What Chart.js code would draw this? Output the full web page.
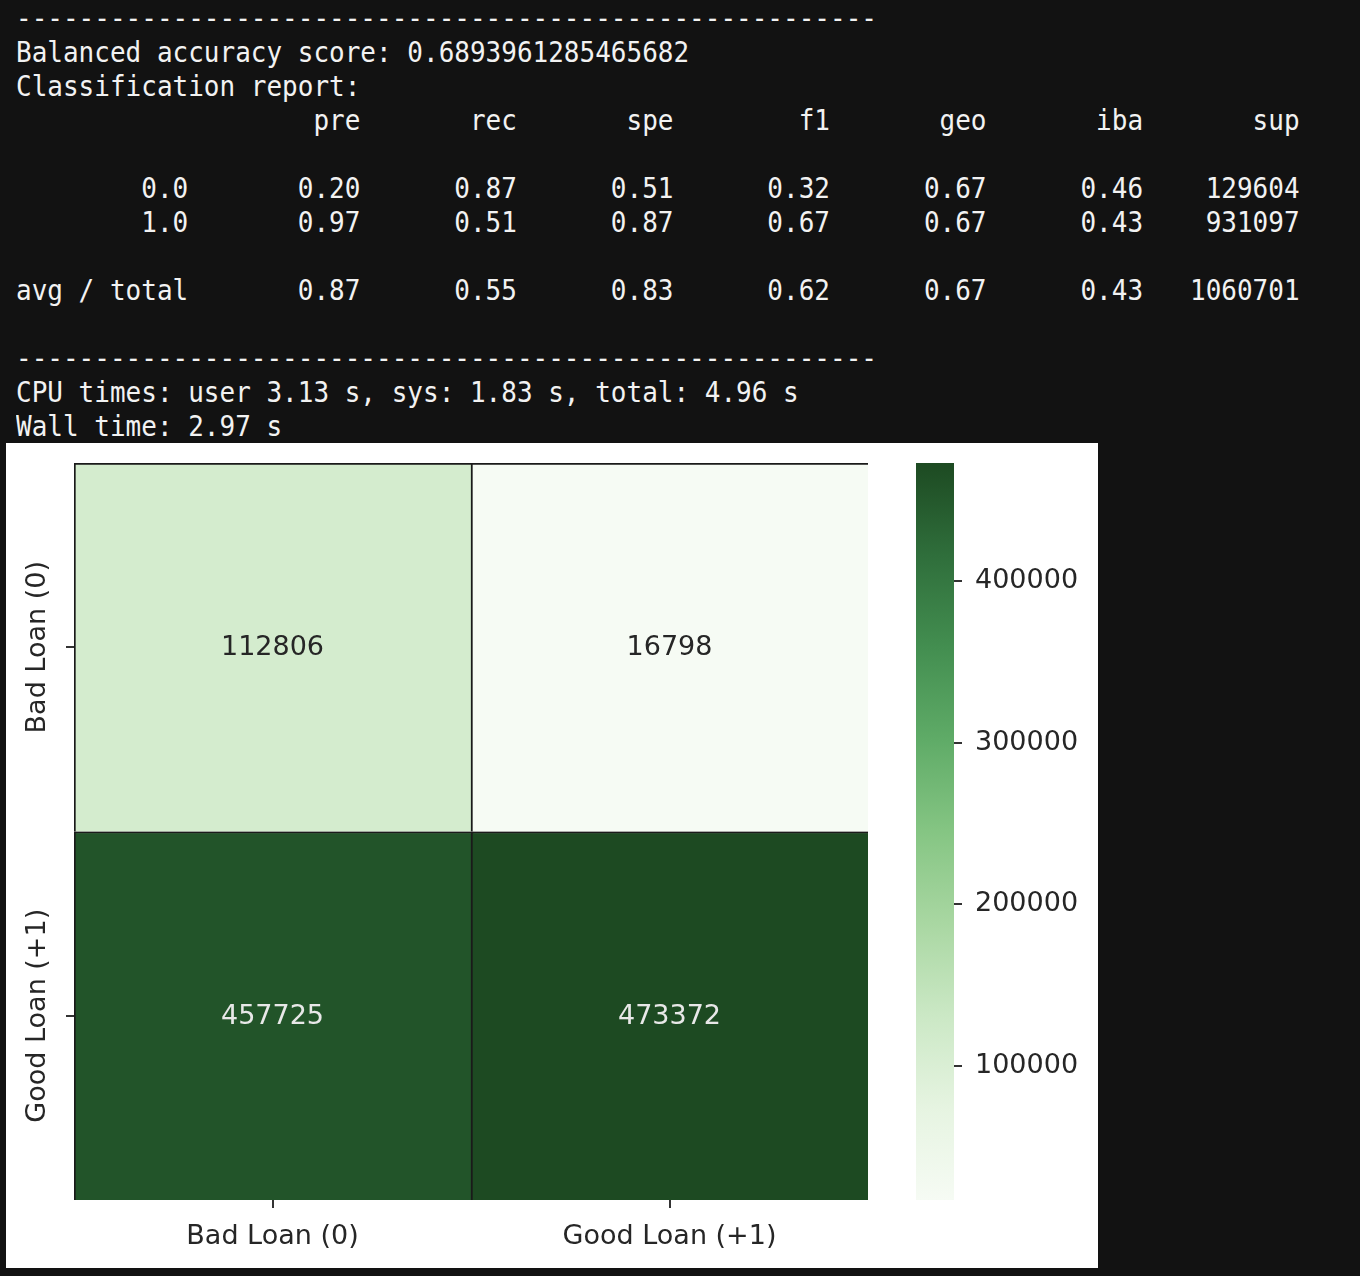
<!DOCTYPE html>
<html>
<head>
<meta charset="utf-8">
<script src="https://cdn.jsdelivr.net/npm/chart.js@4/dist/chart.umd.min.js"></script>
<style>
  body { margin: 0; background: #121212; width: 1360px; height: 1276px; overflow: hidden; position: relative; }
  #term { position: absolute; left: 16px; top: 1px; margin: 0; color: #f2f2f2;
          font-family: "DejaVu Sans Mono", monospace; font-size: 26px; line-height: 34px; white-space: pre; }
  #term span { display: inline-block; transform: scaleY(1.12); }
  #panel { position: absolute; left: 6px; top: 443px; width: 1092px; height: 825px; background: #fff; }
  #heat { position: absolute; left: 0; top: 0; }
  #cbar { position: absolute; left: 894px; top: 0; }
</style>
</head>
<body>
<div id="term"></div>
<div id="panel">
  <canvas id="heat" width="894" height="825"></canvas>
  <canvas id="cbar" width="198" height="825"></canvas>
</div>
<script>
// data
var classes = ['Bad Loan (0)', 'Good Loan (+1)'];
var rowBad = [112806, 16798];
var rowGood = [457725, 473372];
var cbTicks = [100000, 200000, 300000, 400000];

var balanced = '0.6893961285465682';
var repCols = ['pre', 'rec', 'spe', 'f1', 'geo', 'iba', 'sup'];
var repLabels = ['0.0', '1.0', 'avg / total'];
var rep0 = ['0.20', '0.87', '0.51', '0.32', '0.67', '0.46', '129604'];
var rep1 = ['0.97', '0.51', '0.87', '0.67', '0.67', '0.43', '931097'];
var repAvg = ['0.87', '0.55', '0.83', '0.62', '0.67', '0.43', '1060701'];
var cpuLine = 'CPU times: user 3.13 s, sys: 1.83 s, total: 4.96 s';
var wallLine = 'Wall time: 2.97 s';

// terminal text
function cols(vals) {
  return vals.map((v, i) => v.padStart(i === 0 ? 11 : 10)).join('');
}
var dash = '-'.repeat(55);
var lines = [
  dash,
  'Balanced accuracy score: ' + balanced,
  'Classification report:',
  ' '.repeat(11) + cols(repCols),
  '',
  repLabels[0].padStart(11) + cols(rep0),
  repLabels[1].padStart(11) + cols(rep1),
  '',
  repLabels[2] + cols(repAvg),
  '',
  dash,
  cpuLine,
  wallLine
];
document.getElementById('term').innerHTML =
  lines.map(l => '<div><span>' + (l || ' ') + '</span></div>').join('');

// Greens colormap (as it looks in the picture)
var greens = ['#f6fbf4', '#e6f4e1', '#cbe8c5', '#a9d7a2', '#85c583', '#5fab67', '#438e50', '#2f6e3b', '#1d4a22'];
var all = rowBad.concat(rowGood);
var vmin = Math.min.apply(null, all), vmax = Math.max.apply(null, all);

function hex2rgb(h) { return [1, 3, 5].map(i => parseInt(h.substr(i, 2), 16)); }
function cmap(v) {
  var t = Math.max(0, Math.min(1, (v - vmin) / (vmax - vmin))) * (greens.length - 1);
  var i = Math.min(Math.floor(t), greens.length - 2), f = t - i;
  var a = hex2rgb(greens[i]), b = hex2rgb(greens[i + 1]);
  var c = a.map((x, k) => Math.round(x + (b[k] - x) * f));
  return 'rgb(' + c.join(',') + ')';
}
function isLight(v) {
  var c = cmap(v).match(/\d+/g).map(Number);
  return (0.299 * c[0] + 0.587 * c[1] + 0.114 * c[2]) > 128;
}

var font = 'DejaVu Sans';
var txt = '#262626';

var annot = {
  id: 'annot',
  afterDatasetsDraw(chart) {
    var ctx = chart.ctx;
    ctx.save();
    ctx.font = '27px ' + font;
    ctx.textAlign = 'center';
    ctx.textBaseline = 'middle';
    chart.data.datasets.forEach((ds, di) => {
      chart.getDatasetMeta(di).data.forEach((el, i) => {
        var p = el.getCenterPoint();
        ctx.fillStyle = isLight(ds.values[i]) ? txt : '#e8e8e8';
        ctx.fillText(String(ds.values[i]), p.x, p.y + 1);
      });
    });
    // rotated y labels
    var ys = chart.scales.y;
    ctx.fillStyle = txt;
    classes.forEach((c, i) => {
      ctx.save();
      ctx.translate(ys.right - 36, ys.getPixelForValue(i + 0.5));
      ctx.rotate(-Math.PI / 2);
      ctx.fillText(c, 0, 0);
      ctx.restore();
    });
    ctx.restore();
  }
};

function cellSet(vals, r) {
  return {
    data: vals.map(() => [r, r + 1]),
    values: vals,
    backgroundColor: vals.map(cmap),
    borderColor: '#1a1a1a',
    borderWidth: { top: 2, left: 2, right: 0, bottom: 0 },
    borderSkipped: false,
    barPercentage: 1,
    categoryPercentage: 1,
    grouped: false
  };
}

new Chart(document.getElementById('heat'), {
  type: 'bar',
  data: { labels: classes, datasets: [cellSet(rowBad, 0), cellSet(rowGood, 1)] },
  options: {
    responsive: false,
    animation: false,
    devicePixelRatio: 1,
    layout: { padding: { left: 0, top: 20, right: 32, bottom: 0 } },
    plugins: { legend: { display: false }, tooltip: { enabled: false } },
    scales: {
      x: {
        grid: { offset: false, drawOnChartArea: false, tickLength: 8, color: '#333', lineWidth: 2 },
        border: { display: false },
        ticks: { font: { family: font, size: 27 }, color: txt, padding: 13, maxRotation: 0 },
        afterFit(s) { s.height = 68; }
      },
      y: {
        min: 0, max: 2, reverse: true,
        grid: { drawOnChartArea: false, tickLength: 8, color: '#333', lineWidth: 2 },
        border: { display: false },
        ticks: { display: false },
        afterBuildTicks(s) { s.ticks = [{ value: 0.5 }, { value: 1.5 }]; },
        afterFit(s) { s.width = 68; }
      }
    }
  },
  plugins: [annot]
});

// colorbar
new Chart(document.getElementById('cbar'), {
  type: 'bar',
  data: {
    labels: [''],
    datasets: [{
      data: [[vmin, vmax]],
      backgroundColor(c) {
        var ch = c.chart, ys = ch.scales.y;
        if (!ch.chartArea || !ys) return '#ccc';
        var g = ch.ctx.createLinearGradient(0, ys.getPixelForValue(vmin), 0, ys.getPixelForValue(vmax));
        greens.forEach((col, i) => g.addColorStop(i / (greens.length - 1), col));
        return g;
      },
      borderWidth: 0,
      barPercentage: 1,
      categoryPercentage: 1
    }]
  },
  options: {
    responsive: false,
    animation: false,
    devicePixelRatio: 1,
    layout: { padding: { left: 16, top: 20, right: 0, bottom: 68 } },
    plugins: { legend: { display: false }, tooltip: { enabled: false } },
    scales: {
      x: { display: false },
      y: {
        position: 'right',
        min: vmin, max: vmax,
        grid: { drawOnChartArea: false, tickLength: 8, color: '#333', lineWidth: 2 },
        border: { display: false },
        ticks: { font: { family: font, size: 27 }, color: txt, padding: 13, callback: v => String(v) },
        afterBuildTicks(s) { s.ticks = cbTicks.map(v => ({ value: v })); },
        afterFit(s) { s.width = 144; s.paddingTop = 0; s.paddingBottom = 0; }
      }
    }
  }
});
</script>
</body>
</html>
